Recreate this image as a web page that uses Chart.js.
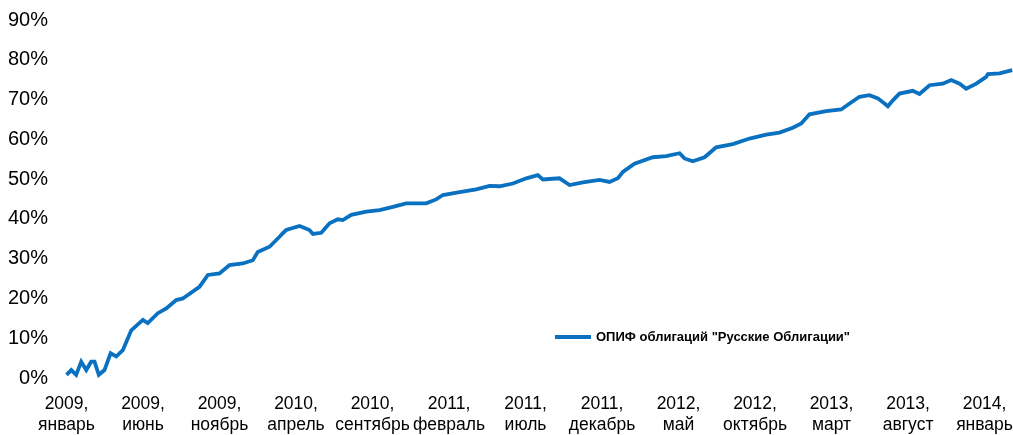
<!DOCTYPE html>
<html>
<head>
<meta charset="utf-8">
<script src="https://cdn.jsdelivr.net/npm/chart.js@4.4.1/dist/chart.umd.min.js"></script>
<style>
html,body{margin:0;padding:0;background:#fff;}
#wrap{width:1013px;height:435px;}
</style>
</head>
<body>
<div id="wrap"><canvas id="c" width="1013" height="435"></canvas></div>
<script>
// months since January 2009
const months = [0,0.31,0.63,0.96,1.29,1.61,1.83,2.11,2.48,2.88,3.25,3.68,4.23,4.99,5.31,5.97,6.52,7.17,7.6,8.69,9.24,10.0,10.65,11.52,12.18,12.5,13.27,13.92,14.14,14.36,15.23,15.44,15.88,16.1,16.65,17.19,17.73,18.06,18.61,19.59,20.46,21.33,22.2,23.51,24.16,24.6,25.69,26.78,27.65,28.3,29.17,30.05,30.8,31.13,32.22,32.88,33.75,34.84,35.49,36.03,36.36,37.12,38.32,39.19,40.07,40.39,40.93,41.7,42.46,43.55,44.64,45.73,46.6,47.47,48.02,48.56,49.65,50.63,51.18,51.83,52.48,53.03,53.46,53.68,54.01,54.44,55.31,55.75,56.41,57.27,57.82,58.37,58.8,59.46,60.11,60.22,60.98,61.81];
// fund return, %
const values = [0.8,2.0,0.8,4.1,2.0,4.1,4.1,0.8,2.0,6.2,5.4,7.0,12.0,14.6,13.8,16.3,17.5,19.6,20.0,22.9,25.9,26.3,28.4,28.8,29.6,31.7,33.0,35.5,36.4,37.2,38.2,37.9,37.2,36.2,36.5,38.9,39.9,39.7,41.0,41.8,42.2,43.0,43.9,43.9,44.9,46.0,46.7,47.4,48.3,48.2,48.9,50.2,51.0,49.9,50.2,48.5,49.2,49.8,49.3,50.2,51.8,53.9,55.5,55.8,56.5,55.2,54.5,55.5,58.0,58.8,60.2,61.2,61.7,62.9,64.0,66.3,67.1,67.5,69.0,70.7,71.1,70.3,69.0,68.3,69.8,71.5,72.2,71.4,73.6,74.0,74.9,74.0,72.7,74.0,75.7,76.4,76.6,77.4];
const tickMonths = [0,5,10,15,20,25,30,35,40,45,50,55,60];
const tickYears = ['2009,','2009,','2009,','2010,','2010,','2011,','2011,','2011,','2012,','2012,','2013,','2013,','2014,'];
const tickMonthNames = ['январь','июнь','ноябрь','апрель','сентябрь','февраль','июль','декабрь','май','октябрь','март','август','январь'];
const yTicks = [0,10,20,30,40,50,60,70,80,90];
const seriesLabel = 'ОПИФ облигаций "Русские Облигации"';
const seriesColor = '#0a71c0';

const legendPlugin = {
  id: 'customLegend',
  afterDraw(chart) {
    const ctx = chart.ctx;
    const ds = chart.data.datasets[0];
    ctx.save();
    ctx.strokeStyle = ds.borderColor;
    ctx.lineWidth = 4;
    ctx.beginPath();
    ctx.moveTo(555, 337);
    ctx.lineTo(591, 337);
    ctx.stroke();
    ctx.fillStyle = '#000';
    ctx.font = 'bold 13px "Liberation Sans", Arial, sans-serif';
    ctx.textBaseline = 'middle';
    ctx.textAlign = 'left';
    ctx.fillText(ds.label, 596, 337);
    ctx.restore();
  }
};

new Chart(document.getElementById('c'), {
  type: 'line',
  data: {
    datasets: [{
      label: seriesLabel,
      data: months.map((m, i) => ({x: m, y: values[i]})),
      borderColor: seriesColor,
      borderWidth: 3.8,
      pointRadius: 0,
      tension: 0,
      fill: false
    }]
  },
  options: {
    responsive: false,
    animation: false,
    layout: {padding: {top: 20, right: 0, left: 0, bottom: 0}},
    plugins: {legend: {display: false}, tooltip: {enabled: false}},
    scales: {
      x: {
        type: 'linear',
        min: -1.08,
        max: 61.86,
        grid: {display: false, drawTicks: false},
        border: {display: false},
        afterBuildTicks: s => { s.ticks = tickMonths.map(v => ({value: v})); },
        afterFit: s => { s.height = 57; s.paddingLeft = 0; s.paddingRight = 0; },
        ticks: {
          autoSkip: false,
          maxRotation: 0,
          padding: 16,
          color: '#000',
          font: {family: '"Liberation Sans", Arial, sans-serif', size: 17.5, lineHeight: 1.2},
          callback: v => { const i = tickMonths.indexOf(v); return i < 0 ? '' : [tickYears[i], tickMonthNames[i]]; }
        }
      },
      y: {
        min: 0,
        max: 90,
        grid: {display: false, drawTicks: false},
        border: {display: false},
        afterBuildTicks: s => { s.ticks = yTicks.map(v => ({value: v})); },
        afterFit: s => { s.width = 50; s.paddingTop = 0; s.paddingBottom = 0; },
        ticks: {
          padding: 2,
          color: '#000',
          font: {family: '"Liberation Sans", Arial, sans-serif', size: 20},
          callback: v => v + '%'
        }
      }
    }
  },
  plugins: [legendPlugin]
});
</script>
</body>
</html>
